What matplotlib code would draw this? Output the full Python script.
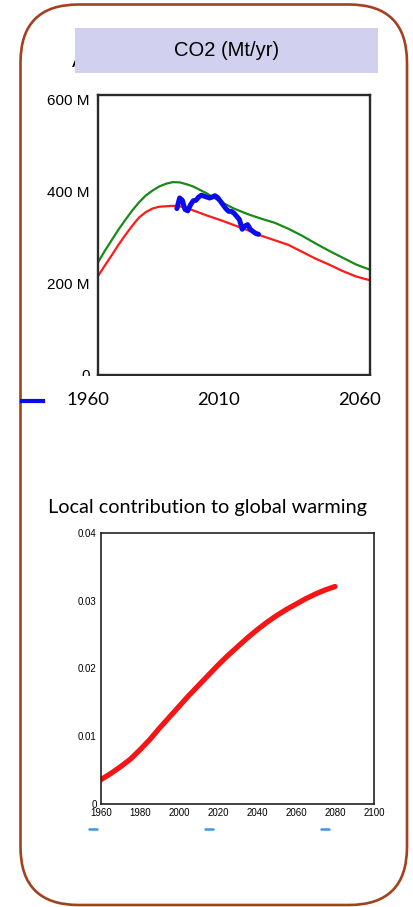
import matplotlib.pyplot as plt
from matplotlib.patches import FancyBboxPatch, Rectangle
from matplotlib.lines import Line2D

W, H = 414, 907

# --- top chart: CO2 (Mt/yr) ---
co2_years = [1960, 1962.5, 1965, 1967.5, 1970, 1972.5, 1975, 1977.5, 1980,
             1982.5, 1985, 1987.5, 1990, 1992.5, 1995, 2000, 2005, 2010,
             2015, 2020, 2025, 2030, 2035, 2040, 2045, 2050, 2055, 2060]
co2_high = [245, 270, 293, 316, 337, 357, 375, 390, 401, 410, 416, 419.5,
            419, 415, 410, 395, 377, 362, 350, 340, 331, 318, 303, 286, 270,
            255, 240, 229]
co2_low = [215, 238, 260, 283, 304, 324, 342, 354, 362, 366, 367, 368, 367,
           363, 358, 347, 337, 326, 315, 303, 293, 283, 268, 253, 240, 226,
           214, 206]
obs_years = list(range(1989, 2020))
obs_co2 = [362, 385, 380, 360, 357, 370, 379, 380, 387, 391, 389, 387, 385,
           387, 390, 386, 378, 370, 362, 356, 356, 352, 345, 338, 317, 324,
           327, 317, 312, 308, 306]
co2_ticks = [0, 200, 400, 600]
co2_ticklabels = ["0", "200 M", "400 M", "600 M"]
year_labels = ["1960", "2010", "2060"]

# --- bottom chart: local contribution to global warming ---
warm_years = [1960, 1965, 1970, 1975, 1980, 1985, 1990, 1995, 2000, 2005, 2010,
              2015, 2020, 2025, 2030, 2035, 2040, 2045, 2050, 2055, 2060,
              2065, 2070, 2075, 2080]
warm_vals = [0.0036, 0.0045, 0.0055, 0.0066, 0.0080, 0.0095, 0.0112, 0.0128,
             0.0144, 0.0160, 0.0175, 0.0190, 0.0205, 0.0219, 0.0232, 0.0245,
             0.0257, 0.0268, 0.0278, 0.0287, 0.0295, 0.0303, 0.0310, 0.0316,
             0.0321]
warm_xticks = [1960, 1980, 2000, 2020, 2040, 2060, 2080, 2100]
warm_yticks = [0, 0.01, 0.02, 0.03, 0.04]
warm_yticklabels = ["0", "0.01", "0.02", "0.03", "0.04"]


def fx(x):
    return x / W


def fy(y):
    return 1 - y / H


def ax_rect(left, top, right, bottom):
    return [fx(left), fy(bottom), (right - left) / W, (bottom - top) / H]


fig = plt.figure(figsize=(W / 100, H / 100), dpi=100)
fig.patch.set_facecolor("white")

# rounded frame (inches coords)
frame = FancyBboxPatch((20.5 / 100, (H - 905) / 100), 386.5 / 100, 900.5 / 100,
                       boxstyle="round,pad=0,rounding_size=0.58",
                       transform=fig.dpi_scale_trans, facecolor="none",
                       edgecolor="#A3411E", linewidth=1.9, zorder=0)
fig.patches.append(frame)

# title box with a stray letter behind it
fig.text(fx(72), fy(67), "A", fontsize=15, family="Liberation Sans",
         color="black", zorder=1)
fig.patches.append(Rectangle((fx(75), fy(73)), 303 / W, 45 / H,
                             transform=fig.transFigure, facecolor="#D1D1EF",
                             edgecolor="none", zorder=2))
fig.text(fx(226.5), fy(51), "CO2 (Mt/yr)", fontsize=14.5,
         family="Liberation Sans", ha="center", va="center", zorder=3)

ax1 = fig.add_axes(ax_rect(98, 95, 370, 375))
ax1.plot(co2_years, co2_high, color="#178A17", lw=1.6)
ax1.plot(co2_years, co2_low, color="#FF1A1A", lw=1.6)
ax1.plot(obs_years, obs_co2, color="#0A0AF0", lw=3.6, solid_joinstyle="round",
         solid_capstyle="round")
ax1.set_xlim(1960, 2060)
ax1.set_ylim(0, 609)
ax1.set_xticks([])
ax1.set_yticks(co2_ticks)
ax1.set_yticklabels(co2_ticklabels, family="Liberation Sans", fontsize=11)
ax1.tick_params(axis="y", length=0, pad=6)
for s in ax1.spines.values():
    s.set_color("#2a2a2a")
    s.set_linewidth(1.7)

# white strip hiding the "0" label of the top chart
fig.patches.append(Rectangle((fx(22), fy(392)), 383 / W, 16 / H,
                             transform=fig.transFigure, facecolor="white",
                             edgecolor="none", zorder=5))

fig.lines.append(Line2D([fx(22), fx(43)], [fy(401), fy(401)],
                        transform=fig.transFigure, color="#0A0AF0", lw=3,
                        zorder=6))
for xpos, lab in zip([87.5, 219, 359.5], year_labels):
    fig.text(fx(xpos), fy(400), lab, fontsize=13.3, family="Lato",
             ha="center", va="center", zorder=6)

fig.text(fx(208), fy(508), "Local contribution to global warming",
         fontsize=14.3, family="Lato", ha="center", va="center")

ax2 = fig.add_axes(ax_rect(101, 533, 374, 804))
ax2.plot(warm_years, warm_vals, color="#F51515", lw=3.8,
         solid_capstyle="round")
ax2.set_xlim(1960, 2100)
ax2.set_ylim(0, 0.04)
ax2.set_xticks(warm_xticks)
ax2.set_xticklabels([str(v) for v in warm_xticks], family="Liberation Sans",
                    fontsize=7)
ax2.set_yticks(warm_yticks)
ax2.set_yticklabels(warm_yticklabels, family="Liberation Sans", fontsize=7)
ax2.tick_params(length=0, pad=3)
for s in ax2.spines.values():
    s.set_color("#222222")
    s.set_linewidth(1.2)

# small blue legend stubs under the lower chart
for xpos in [93.5, 209.5, 325.5]:
    fig.lines.append(Line2D([fx(xpos - 4), fx(xpos + 4)], [fy(829), fy(829)],
                            transform=fig.transFigure, color="#3E95EC",
                            lw=1.8, solid_capstyle="round"))

fig.savefig("out.png", dpi=100)
